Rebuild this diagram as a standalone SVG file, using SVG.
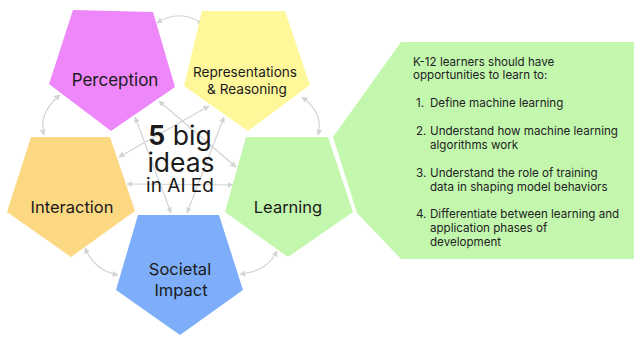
<svg xmlns="http://www.w3.org/2000/svg" width="634" height="339" viewBox="0 0 634 339">
<defs>
<marker id="ah" viewBox="0 0 10 10" refX="9" refY="5" markerWidth="6" markerHeight="6" orient="auto-start-reverse" markerUnits="userSpaceOnUse">
<path d="M0,0 L10,5 L0,10 z" fill="#d3d3d3"/>
</marker>
<style>
.lbl{font-family:Inter,"Noto Sans","Liberation Sans",sans-serif;fill:#1a1a1a;text-anchor:middle}
.bt{font-family:Inter,"Noto Sans","Liberation Sans",sans-serif;fill:#222222;font-size:11.6px}
.c{fill:none;stroke:#d3d3d3;stroke-width:1.2;marker-start:url(#ah);marker-end:url(#ah)}
</style>
</defs>
<rect width="634" height="339" fill="#ffffff"/>
<g id="connectors">
<path class="c" d="M157,23 Q180,8 203,24"/>
<path class="c" d="M60,95 Q38,113 44,135"/>
<path class="c" d="M302,97 Q324,113 318,135"/>
<path class="c" d="M85,248 Q95,271 118,275"/>
<path class="c" d="M277,251 Q267,272 240,274"/>
<path class="c" d="M159,101 L236,167"/>
<path class="c" d="M135,117 L171,213"/>
<path class="c" d="M209,106 L119,157"/>
<path class="c" d="M224,117 L187,213"/>
<path class="c" d="M127,184 L233,185"/>
</g>
<g id="perception">
<polygon points="73,10 153,12 175,87 111,131 49,84" fill="#ee88fa"/>
<text class="lbl" x="115" y="86" font-size="17">Perception</text>
</g>
<g id="representations">
<polygon points="202,11 285,11 310,85 248,131 184,86" fill="#fff89a"/>
<text class="lbl" x="245" y="77" font-size="13.6">Representations</text>
<text class="lbl" x="247" y="94" font-size="13.6">&amp; Reasoning</text>
</g>
<g id="interaction">
<polygon points="31,137 110,137 135,211 71,257 7,212" fill="#fdd882"/>
<text class="lbl" x="72" y="213" font-size="16.5">Interaction</text>
</g>
<g id="learning">
<polygon points="246,137 328,137 353,212 288,257 225,212" fill="#c3f7ae"/>
<text class="lbl" x="288" y="213" font-size="16.5">Learning</text>
</g>
<g id="societal">
<polygon points="138,215 219,215 243,290 180,335 116,290" fill="#7eaef9"/>
<text class="lbl" x="180" y="275" font-size="16.5">Societal</text>
<text class="lbl" x="181" y="296" font-size="16.5">Impact</text>
</g>
<g id="center">
<text class="lbl" x="180" y="145" font-size="26.5"><tspan font-weight="bold">5</tspan> big</text>
<text class="lbl" x="181" y="172" font-size="26.5">ideas</text>
<text class="lbl" x="180" y="192" font-size="19">in AI Ed</text>
</g>
<g id="details">
<polygon points="401,42 634,42 634,259 401,259 357,213 333,137" fill="#c3f7ae"/>
<text class="bt" x="413" y="66">K-12 learners should have</text>
<text class="bt" x="413" y="79">opportunities to learn to:</text>
<text class="bt" x="416" y="107">1.</text>
<text class="bt" x="430" y="107">Define machine learning</text>
<text class="bt" x="416" y="135">2.</text>
<text class="bt" x="430" y="135">Understand how machine learning</text>
<text class="bt" x="430" y="149">algorithms work</text>
<text class="bt" x="416" y="177">3.</text>
<text class="bt" x="430" y="177">Understand the role of training</text>
<text class="bt" x="430" y="191">data in shaping model behaviors</text>
<text class="bt" x="416" y="218">4.</text>
<text class="bt" x="430" y="218">Differentiate between learning and</text>
<text class="bt" x="430" y="232">application phases of</text>
<text class="bt" x="430" y="246">development</text>
</g>
</svg>
